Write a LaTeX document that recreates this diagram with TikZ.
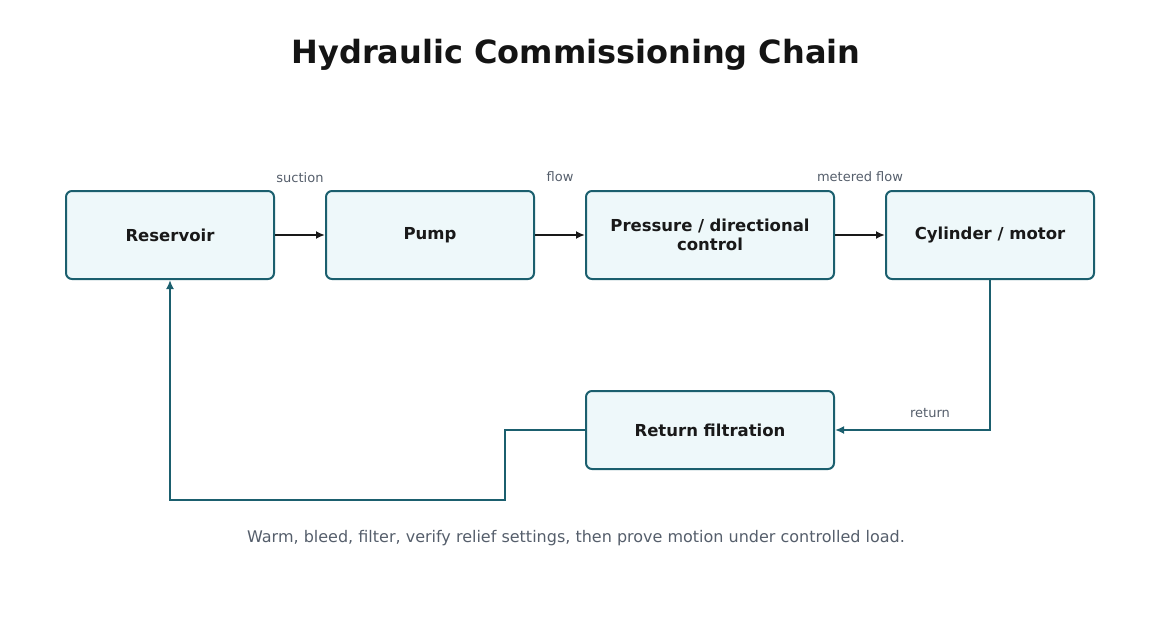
\documentclass[tikz,border=0pt]{standalone}
\usepackage{fontspec}
\setmainfont{DejaVu Sans}
\usetikzlibrary{arrows.meta}
\definecolor{edge}{HTML}{1B5F6E}
\definecolor{boxfill}{HTML}{EEF8FA}
\definecolor{lab}{HTML}{555E6B}
\begin{document}
\begin{tikzpicture}[x=1pt,y=-1pt,
  box/.style={draw=edge,fill=boxfill,line width=2pt,rounded corners=6pt,minimum height=88pt,align=center,font=\fontsize{16.5}{19}\selectfont\bfseries,text=black!90},
  flow/.style={line width=2pt,draw=black!90,-{Latex[length=9pt,width=8pt]}},
  ret/.style={line width=2pt,draw=edge,-{Latex[length=9pt,width=8pt]}},
  lbl/.style={font=\fontsize{13}{15}\selectfont,text=lab}]
\useasboundingbox (0,0) rectangle (1152,618);
\node[font=\fontsize{32}{38}\selectfont\bfseries,text=black!92] (title) at (576,55) {Hydraulic Commissioning Chain};
\node[box,minimum width=208pt] (res) at (170,235) {Reservoir};
\node[box,minimum width=208pt] (pump) at (430,235) {Pump};
\node[box,minimum width=248pt,text width=230pt] (ctrl) at (710,235) {Pressure / directional\\control};
\node[box,minimum width=208pt] (cyl) at (990,235) {Cylinder / motor};
\node[box,minimum width=248pt,minimum height=78pt] (filt) at (710,430) {Return filtration};
\draw[flow] (res) -- (pump);
\draw[flow] (pump) -- (ctrl);
\draw[flow] (ctrl) -- (cyl);
\draw[ret] (cyl.south) |- (filt.east);
\coordinate (k1) at (505,430);
\coordinate (k2) at (505,500);
\coordinate (k3) at (170,500);
\draw[ret] (filt.west) -- (k1) -- (k2) -- (k3) -- (res.south);
\node[lbl] (l1) at (300,178) {suction};
\node[lbl] (l2) at (560,177) {flow};
\node[lbl] (l3) at (860,177) {metered flow};
\node[lbl] (l4) at (930,413) {return};
\node[font=\fontsize{16}{19}\selectfont,text=lab] (foot) at (576,538) {Warm, bleed, filter, verify relief settings, then prove motion under controlled load.};
\end{tikzpicture}
\end{document}
